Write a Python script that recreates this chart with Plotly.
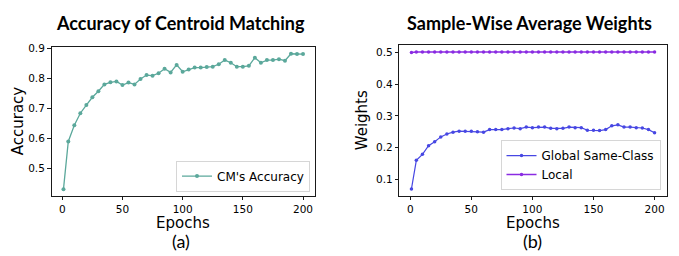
import plotly.graph_objects as go

epochs = [1] + list(range(5, 201, 5))

cm_accuracy = [0.430, 0.589, 0.643, 0.683, 0.710, 0.736, 0.756, 0.779, 0.786, 0.789,
               0.777, 0.785, 0.779, 0.797, 0.810, 0.808, 0.816, 0.831, 0.819, 0.844,
               0.821, 0.829, 0.835, 0.835, 0.837, 0.838, 0.846, 0.860, 0.851, 0.838,
               0.838, 0.841, 0.868, 0.851, 0.860, 0.860, 0.863, 0.858, 0.881, 0.880,
               0.880]

global_same_class = [0.070, 0.160, 0.179, 0.206, 0.219, 0.234, 0.243, 0.249, 0.252, 0.252,
                     0.252, 0.250, 0.249, 0.257, 0.257, 0.257, 0.260, 0.262, 0.260, 0.265,
                     0.263, 0.265, 0.265, 0.261, 0.260, 0.261, 0.265, 0.263, 0.263, 0.255,
                     0.255, 0.254, 0.257, 0.269, 0.272, 0.265, 0.265, 0.263, 0.262, 0.257,
                     0.247]

local_weights = [0.500] + [0.502] * 40

x_ticks = [0, 50, 100, 150, 200]
acc_ticks = [0.5, 0.6, 0.7, 0.8, 0.9]
w_ticks = [0.1, 0.2, 0.3, 0.4, 0.5]

W, H = 679, 256
TEAL = "#5ba89b"
BLUE = "#4747e3"
PURPLE = "#8a2be2"
TICKFONT = dict(family="DejaVu Sans", size=10.5, color="#000000")
LABFONT = dict(family="DejaVu Sans", size=15, color="#000000")
TITLEFONT = dict(family="Lato", size=18, color="#000000")
CAPFONT = dict(family="Lato", size=18, color="#000000")

def px_x(v):
    return v / W

def px_y(v):
    return 1 - v / H

fig = go.Figure()

fig.add_trace(go.Scatter(
    x=epochs, y=cm_accuracy, mode="lines+markers", name="CM's Accuracy",
    line=dict(color=TEAL, width=1.3), marker=dict(color=TEAL, size=4),
    xaxis="x", yaxis="y", legend="legend"))

fig.add_trace(go.Scatter(
    x=epochs, y=global_same_class, mode="lines+markers", name="Global Same-Class",
    line=dict(color=BLUE, width=1.2), marker=dict(color=BLUE, size=3.5),
    xaxis="x2", yaxis="y2", legend="legend2"))

fig.add_trace(go.Scatter(
    x=epochs, y=local_weights, mode="lines+markers", name="Local",
    line=dict(color=PURPLE, width=1.5), marker=dict(color=PURPLE, size=3.5),
    xaxis="x2", yaxis="y2", legend="legend2"))

axis_common = dict(showline=True, linecolor="#1a1a1a", linewidth=1, mirror=True,
                   ticks="outside", ticklen=3.5, tickwidth=1, tickcolor="#1a1a1a",
                   showgrid=False, zeroline=False, tickfont=TICKFONT)

fig.update_layout(
    width=W, height=H,
    margin=dict(l=0, r=0, t=0, b=0),
    paper_bgcolor="white", plot_bgcolor="white",
    xaxis=dict(domain=[px_x(51.5), px_x(315)], range=[-8.95, 209.95],
               tickvals=x_ticks, anchor="y", **axis_common),
    yaxis=dict(domain=[px_y(194.5), px_y(42.3)], range=[0.4075, 0.9025],
               tickvals=acc_ticks, tickformat=".1f", anchor="x", **axis_common),
    xaxis2=dict(domain=[px_x(399.3), px_x(666.7)], range=[-8.95, 209.95],
                tickvals=x_ticks, anchor="y2", **axis_common),
    yaxis2=dict(domain=[px_y(194.3), px_y(40)], range=[0.0484, 0.5236],
                tickvals=w_ticks, tickformat=".1f", anchor="x2", **axis_common),
    legend=dict(x=px_x(310), y=px_y(190), xanchor="right", yanchor="bottom",
                bgcolor="white", bordercolor="#d6d6d6", borderwidth=1,
                font=dict(family="DejaVu Sans", size=12, color="#000000"),
                itemwidth=30, tracegroupgap=0),
    legend2=dict(x=px_x(660.5), y=px_y(188.5), xanchor="right", yanchor="bottom",
                 bgcolor="white", bordercolor="#d6d6d6", borderwidth=1,
                 font=dict(family="DejaVu Sans", size=12, color="#000000"),
                 itemwidth=30, tracegroupgap=0),
    showlegend=True,
)

annotations = [
    dict(text="<b>Accuracy of Centroid Matching</b>", x=px_x(180.5), y=px_y(17),
         font=TITLEFONT),
    dict(text="<b>Sample-Wise Average Weights</b>", x=px_x(529), y=px_y(17),
         font=TITLEFONT),
    dict(text="Epochs", x=px_x(183), y=px_y(222), font=LABFONT),
    dict(text="Epochs", x=px_x(533), y=px_y(222), font=LABFONT),
    dict(text="Accuracy", x=px_x(18), y=px_y(118), textangle=-90, font=LABFONT),
    dict(text="Weights", x=px_x(362), y=px_y(117), textangle=-90, font=LABFONT),
    dict(text="(a)", x=px_x(181), y=px_y(241), font=CAPFONT),
    dict(text="(b)", x=px_x(532), y=px_y(241), font=CAPFONT),
]
for a in annotations:
    a.update(xref="paper", yref="paper", showarrow=False,
             xanchor="center", yanchor="middle")
fig.update_layout(annotations=annotations)

fig.write_html("out.html",
               config={"displayModeBar": False},
               post_script="document.body.style.margin='0';"
                           "document.body.style.overflow='hidden';")
